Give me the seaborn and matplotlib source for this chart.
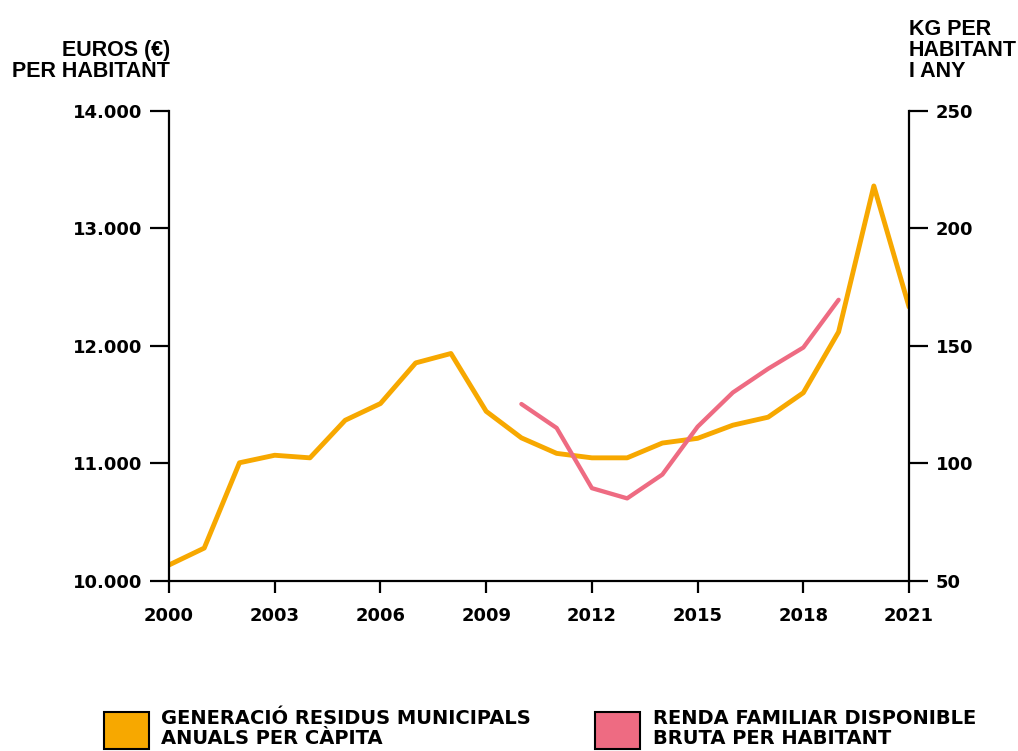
import matplotlib
matplotlib.use('Agg')
import matplotlib.pyplot as plt
import matplotlib.patches as mpatches
import seaborn as sns
import pandas as pd

sns.set_style("white")
plt.rcParams['font.family'] = ['DejaVu Sans']
plt.rcParams['font.weight'] = 'bold'
plt.rcParams['text.color'] = 'black'
plt.rcParams['xtick.color'] = 'black'
plt.rcParams['ytick.color'] = 'black'

# Dades llegides del gràfic
anys = list(range(2000, 2022))
residus_kg = [56.8, 64.0, 100.3, 103.5, 102.4, 118.4, 125.5, 142.8, 146.8, 122.2,
              110.9, 104.3, 102.4, 102.4, 108.7, 110.7, 116.3, 119.7, 130.1, 156.0,
              218.1, 166.6]
anys_renda = list(range(2010, 2020))
renda_eur = [11506, 11302, 10790, 10703, 10906, 11313, 11604, 11806, 11987, 12393]

x_ticks = [2000, 2003, 2006, 2009, 2012, 2015, 2018, 2021]
eur_ticks = [10000, 11000, 12000, 13000, 14000]
eur_labels = ['10.000', '11.000', '12.000', '13.000', '14.000']
kg_ticks = [50, 100, 150, 200, 250]

taronja = '#F7A800'
rosa = '#EE6B82'

df_res = pd.DataFrame({'any': anys, 'kg': residus_kg})
df_ren = pd.DataFrame({'any': anys_renda, 'eur': renda_eur})

fig, ax = plt.subplots(figsize=(10.18, 7.51), dpi=100)
fig.subplots_adjust(left=0.166, right=0.893, bottom=0.2264, top=0.8522)
ax2 = ax.twinx()

sns.lineplot(data=df_res, x='any', y='kg', ax=ax2, color=taronja, linewidth=3.5)
sns.lineplot(data=df_ren, x='any', y='eur', ax=ax, color=rosa, linewidth=3.1,
             solid_capstyle='round')

# la renda per sobre
ax.set_zorder(ax2.get_zorder() + 1)
ax.patch.set_visible(False)

ax.set_xlim(2000, 2021)
ax.set_ylim(10000, 14000)
ax2.set_ylim(50, 250)

ax.set_xticks(x_ticks)
ax.set_xticklabels([str(t) for t in x_ticks], fontsize=13, fontweight='bold')
ax.set_yticks(eur_ticks)
ax.set_yticklabels(eur_labels, fontsize=13, fontweight='bold')
ax2.set_yticks(kg_ticks)
ax2.set_yticklabels([str(t) for t in kg_ticks], fontsize=13, fontweight='bold')

ax.set_xlabel('')
ax.set_ylabel('')
ax2.set_ylabel('')

for s in ['top', 'right']:
    ax.spines[s].set_visible(False)
for s in ['top', 'left', 'bottom']:
    ax2.spines[s].set_visible(False)
for s in ['left', 'bottom']:
    ax.spines[s].set_linewidth(1.6)
    ax.spines[s].set_color('black')
ax2.spines['right'].set_linewidth(1.6)
ax2.spines['right'].set_color('black')

ax.tick_params(axis='y', direction='out', length=13.5, width=1.6, pad=6, left=True)
ax.tick_params(axis='x', direction='out', length=8.5, width=1.6, pad=10, bottom=True)
ax2.tick_params(axis='y', direction='out', length=14, width=1.6, pad=5, right=True)

titol_font = ['Liberation Sans', 'DejaVu Sans']
fig.text(0.167, 1 - 77 / 751, 'EUROS (€)\nPER HABITANT', ha='right', va='baseline',
         fontsize=15.5, fontweight='bold', family=titol_font, linespacing=1.0)
fig.text(0.893, 1 - 77 / 751, 'KG PER\nHABITANT\nI ANY', ha='left', va='baseline',
         fontsize=15.5, fontweight='bold', family=titol_font, linespacing=1.0)

handles = [
    mpatches.Patch(facecolor=taronja, edgecolor='black', linewidth=1.5,
                   label='GENERACIÓ RESIDUS MUNICIPALS\nANUALS PER CÀPITA'),
    mpatches.Patch(facecolor=rosa, edgecolor='black', linewidth=1.5,
                   label='RENDA FAMILIAR DISPONIBLE\nBRUTA PER HABITANT'),
]
leg = fig.legend(handles=handles, loc='upper left',
                 bbox_to_anchor=(104 / 1018, 1 - 709 / 751),
                 ncol=2, frameon=False, borderpad=0, borderaxespad=0,
                 handlelength=2.3, handleheight=2.6, handletextpad=0.65,
                 columnspacing=3.3,
                 prop={'family': 'DejaVu Sans', 'weight': 'bold', 'size': 14})
for t in leg.get_texts():
    t.set_linespacing(1.1)

fig.savefig('out.png', dpi=100)
